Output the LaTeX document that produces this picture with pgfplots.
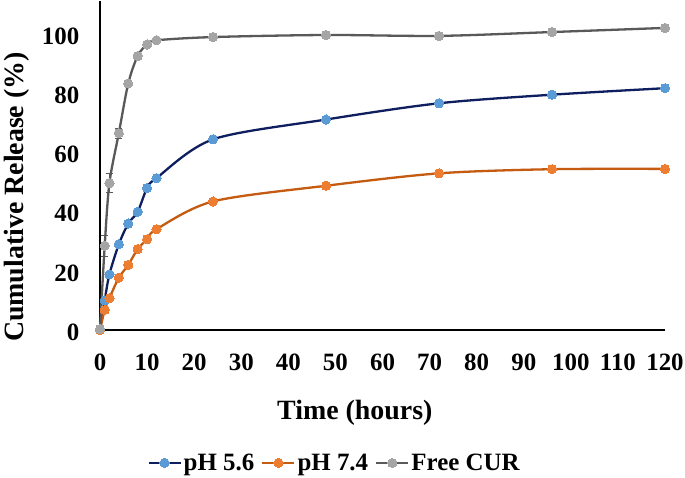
\documentclass[border=0pt]{standalone}
\usepackage{fontspec}
\setmainfont{Liberation Serif}
\usepackage{pgfplots}
\pgfplotsset{compat=1.18}
\definecolor{navyline}{HTML}{0E1E5E}
\definecolor{bluemark}{HTML}{5B9BD5}
\definecolor{orangeline}{HTML}{C55A11}
\definecolor{orangemark}{HTML}{ED7D31}
\definecolor{grayline}{HTML}{595959}
\definecolor{graymark}{HTML}{A5A5A5}
\begin{document}
\begin{tikzpicture}
\useasboundingbox (-100bp,-148bp) rectangle (585bp,330bp);
\begin{axis}[
  at={(0,0)}, anchor=south west,
  scale only axis, width=565bp, height=329bp,
  xmin=0, xmax=120, ymin=0, ymax=111.3,
  xtick={0,10,...,120}, ytick={0,20,...,100},
  axis lines=left,
  axis line style={-, line width=1.3bp, black},
  tick style={draw=none},
  clip=false,
  /pgf/number format/assume math mode=true,
  ticklabel style={font=\fontsize{25}{25}\selectfont\bfseries},
  xticklabel style={anchor=base, yshift=-38bp},
  yticklabel style={anchor=east, xshift=-15bp, yshift=-2bp},
  xlabel={Time (hours)},
  ylabel={Cumulative Release (\%)},
  every axis x label/.style={at={(axis description cs:0.451,-0.252)}, anchor=center, font=\fontsize{28}{28}\selectfont\bfseries},
  every axis y label/.style={at={(axis description cs:-0.147,0.404)}, rotate=90, anchor=center, font=\fontsize{28}{28}\selectfont\bfseries},
  legend style={at={(axis description cs:0.415,-0.404)}, anchor=center, draw=none,
    legend columns=-1, font=\fontsize{25}{25}\selectfont\bfseries,
    /tikz/every even column/.append style={column sep=5bp},
    inner sep=0pt, row sep=0pt},
  legend image code/.code={\draw[mark repeat=2,mark phase=2] plot coordinates {(0bp,0bp) (16bp,0bp) (32bp,0bp)};},
  every axis plot/.append style={line width=2.3bp, smooth, tension=0.5},
]
\addplot[navyline, mark=*, mark size=4.6bp, mark options={draw=bluemark, fill=bluemark, line width=0pt}]
  coordinates {(0,0) (1,10) (2,18.8) (4,29) (6,36) (8,40) (10,48) (12,51.4) (24,64.5) (48,71.2) (72,76.7) (96,79.6) (120,81.8)};
\addlegendentry{pH 5.6}
\addplot[orangeline, mark=*, mark size=4.6bp, mark options={draw=orangemark, fill=orangemark, line width=0pt}]
  coordinates {(0,0) (1,6.8) (2,10.8) (4,17.7) (6,22) (8,27.4) (10,30.7) (12,34.1) (24,43.5) (48,48.8) (72,53) (96,54.4) (120,54.5)};
\addlegendentry{pH 7.4}
\addplot[grayline, mark=*, mark size=4.6bp, mark options={draw=graymark, fill=graymark, line width=0pt},
  error bars/.cd, y dir=both, y explicit,
  error bar style={line width=1bp, grayline, solid},
  error mark options={rotate=90, mark size=3.5bp, line width=1bp, grayline}]
  coordinates {(0,0.3) +- (0,0) (1,28.5) +- (0,3.6) (2,49.7) +- (0,3.3) (4,66.6) +- (0,1.7) (6,83.4) +- (0,1) (8,92.7) +- (0,1.2) (10,96.6) +- (0,0.8) (12,98) +- (0,0.5) (24,99.1) +- (0,0) (48,99.8) +- (0,0) (72,99.5) +- (0,0) (96,100.8) +- (0,0.8) (120,102.2) +- (0,0)};
\addlegendentry{Free CUR}
\end{axis}
\end{tikzpicture}
\end{document}
